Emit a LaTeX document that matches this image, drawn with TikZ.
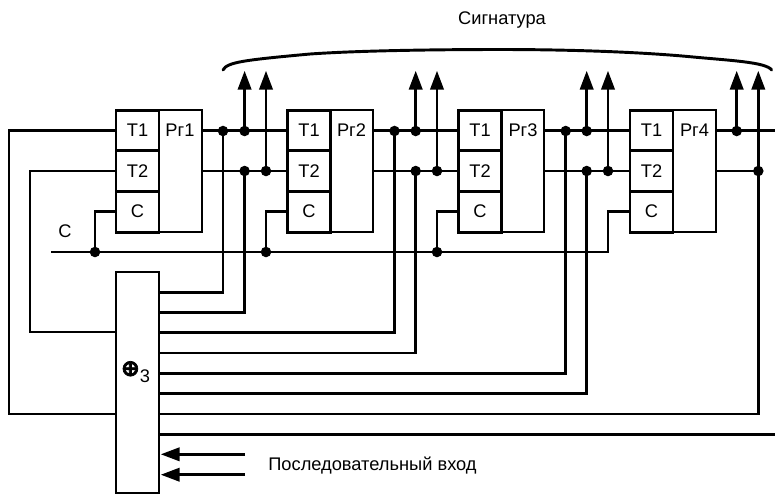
\documentclass[tikz,border=0pt]{standalone}
\usepackage{fontspec}
\setmainfont{Liberation Sans}
\newfontfamily\symfont[FakeBold=3]{DejaVu Sans Bold}
\usetikzlibrary{arrows.meta}
\tikzset{
  wire/.style={line width=2.2pt},
  arrowline/.style={line width=2.2pt,-{Triangle[length=14.25pt,width=10pt,inset=0pt]}},
  cell/.style={draw,line width=2.2pt,minimum width=32.25pt,minimum height=30.5pt,inner sep=0pt,outer sep=0pt,fill=white},
  regbox/.style={draw,line width=2.2pt,minimum width=32.25pt,minimum height=91.5pt,inner sep=0pt,outer sep=0pt,fill=white},
  xorbox/.style={draw,line width=2.2pt,minimum width=32.25pt,minimum height=165.75pt,inner sep=0pt,outer sep=0pt,fill=white},
  dot/.style={circle,fill=black,inner sep=0pt,outer sep=0pt,minimum size=7.9pt},
  txt/.style={inner sep=0pt,font=\fontsize{13.7pt}{16pt}\selectfont}
}
\begin{document}
\begin{tikzpicture}[x=0.75pt,y=-0.75pt]
            \useasboundingbox (0,0) rectangle (775,494);
            \node [regbox] (Pa) at(180.5,171) {};
            \node [regbox] (Pb) at(351.5,171) {};
            \node [regbox] (Pc) at(522.5,171) {};
            \node [regbox] (Pd) at(694.5,171) {};
            \node [cell] (T1a) at(137.5,130.4) {};
            \node [cell] (T2a) at(137.5,171) {};
            \node [cell] (Ca) at(137.5,211.7) {};
            \node [cell] (T1b) at(309,130.4) {};
            \node [cell] (T2b) at(309,171) {};
            \node [cell] (Cb) at(309,211.7) {};
            \node [cell] (T1c) at(480,130.4) {};
            \node [cell] (T2c) at(480,171) {};
            \node [cell] (Cc) at(480,211.7) {};
            \node [cell] (T1d) at(651.5,130.4) {};
            \node [cell] (T2d) at(651.5,171) {};
            \node [cell] (Cd) at(651.5,211.7) {};
            \node [xorbox] (X) at(137.5,382.5) {};
            \node [txt] (tT1a) at(137.5,130.4) {Т1};
            \node [txt] (tT2a) at(137.5,171) {Т2};
            \node [txt] (tCa) at(137.5,211) {С};
            \node [txt] (tPa) at(180,130.4) {Рг1};
            \node [txt] (tT1b) at(309,130.4) {Т1};
            \node [txt] (tT2b) at(309,171) {Т2};
            \node [txt] (tCb) at(309,211) {С};
            \node [txt] (tPb) at(351.5,130.4) {Рг2};
            \node [txt] (tT1c) at(480,130.4) {Т1};
            \node [txt] (tT2c) at(480,171) {Т2};
            \node [txt] (tCc) at(480,211) {С};
            \node [txt] (tPc) at(523,130.4) {Рг3};
            \node [txt] (tT1d) at(651.5,130.4) {Т1};
            \node [txt] (tT2d) at(651.5,171) {Т2};
            \node [txt] (tCd) at(651.5,211) {С};
            \node [txt] (tPd) at(694.5,130.4) {Рг4};
            \node [txt] (tC) at(65,231) {С};
            \node [txt] (tS) at(502,20) {Сигнатура};
            \node [txt] (tV) at(372.5,465.5) {Последовательный вход};
            \node [txt] (tX) at(135.5,372) {{\symfont\fontsize{17pt}{17pt}\selectfont ⊕}\raisebox{-5pt}{3}};
            \node [dot] (A1) at(223,131) {};
            \node [dot] (A2) at(244.6,131) {};
            \node [dot] (A3) at(244.6,171) {};
            \node [dot] (A4) at(266,171) {};
            \node [dot] (B1) at(394.5,131) {};
            \node [dot] (B2) at(415.7,131) {};
            \node [dot] (B3) at(415.7,171) {};
            \node [dot] (B4) at(437,171) {};
            \node [dot] (C1) at(565.7,131) {};
            \node [dot] (C2) at(586.7,131) {};
            \node [dot] (C3) at(586.7,171) {};
            \node [dot] (C4) at(608,171) {};
            \node [dot] (D2) at(736.7,131) {};
            \node [dot] (D4) at(758.3,171) {};
            \node [dot] (Ka) at(95,252) {};
            \node [dot] (Kb) at(266,252) {};
            \node [dot] (Kc) at(437,252) {};
            \coordinate (La) at(9,130.4);
            \coordinate (Lb) at(30,171);
            \coordinate (Ia) at(116,414);
            \coordinate (Ib) at(116,332);
            \coordinate (Oa) at(159,292.5);
            \coordinate (Ob) at(159,312.5);
            \coordinate (Oc) at(159,332.5);
            \coordinate (Od) at(159,353);
            \coordinate (Oe) at(159,373.5);
            \coordinate (Of) at(159,393.5);
            \coordinate (Og) at(159,414);
            \coordinate (Oh) at(159,434.7);
            \coordinate (Ri) at(775,434.7);
            \coordinate (Rt) at(775,130.4);
            \coordinate (Cs) at(51,252);
            \coordinate (Ce) at(608,252);
            \coordinate (Ua) at(244.6,70.7);
            \coordinate (Ub) at(266,70.7);
            \coordinate (Uc) at(415.7,70.7);
            \coordinate (Ud) at(437,70.7);
            \coordinate (Ue) at(586.7,70.7);
            \coordinate (Uf) at(608,70.7);
            \coordinate (Ug) at(736.7,70.7);
            \coordinate (Uh) at(758.3,70.7);
            \coordinate (Sa) at(245,454.3);
            \coordinate (Sb) at(245,474.7);
            \coordinate (Ta) at(160.7,454.3);
            \coordinate (Tb) at(160.7,474.7);
            \draw [wire] (T1a.west)--(La)|-(Ia);
            \draw [wire] (T2a.west)--(Lb)|-(Ib);
            \draw [wire] (Pa.east|-T1a)--(T1b.west);
            \draw [wire] (Pa.east)--(T2b.west);
            \draw [wire] (Pb.east|-T1b)--(T1c.west);
            \draw [wire] (Pb.east)--(T2c.west);
            \draw [wire] (Pc.east|-T1c)--(T1d.west);
            \draw [wire] (Pc.east)--(T2d.west);
            \draw [wire] (Pd.east|-T1d)--(Rt);
            \draw [wire] (Pd.east)--(D4.center);
            \draw [wire] (Cs)--(Ce)|-(Cd.west);
            \draw [wire] (Ka.center)|-(Ca.west);
            \draw [wire] (Kb.center)|-(Cb.west);
            \draw [wire] (Kc.center)|-(Cc.west);
            \draw [wire] (Oa)-|(A1.center);
            \draw [wire] (Ob)-|(A3.center);
            \draw [wire] (Oc)-|(B1.center);
            \draw [wire] (Od)-|(B3.center);
            \draw [wire] (Oe)-|(C1.center);
            \draw [wire] (Of)-|(C3.center);
            \draw [wire] (Og)-|(D4.center);
            \draw [wire] (Oh)--(Ri);
            \draw [arrowline] (A2.center)--(Ua);
            \draw [arrowline] (A4.center)--(Ub);
            \draw [arrowline] (B2.center)--(Uc);
            \draw [arrowline] (B4.center)--(Ud);
            \draw [arrowline] (C2.center)--(Ue);
            \draw [arrowline] (C4.center)--(Uf);
            \draw [arrowline] (D2.center)--(Ug);
            \draw [arrowline] (D4.center)--(Uh);
            \draw [arrowline] (Sa)--(Ta);
            \draw [arrowline] (Sb)--(Tb);
            \draw [wire,line cap=round] (223,70) .. controls (227,62) and (245,60) .. (310,54) .. controls (360,50.5) and (440,49.5) .. (500,49.5) .. controls (570,49.5) and (640,52) .. (690,56.7) .. controls (730,60.5) and (766,62) .. (771.7,70);
        \end{tikzpicture}
\end{document}
